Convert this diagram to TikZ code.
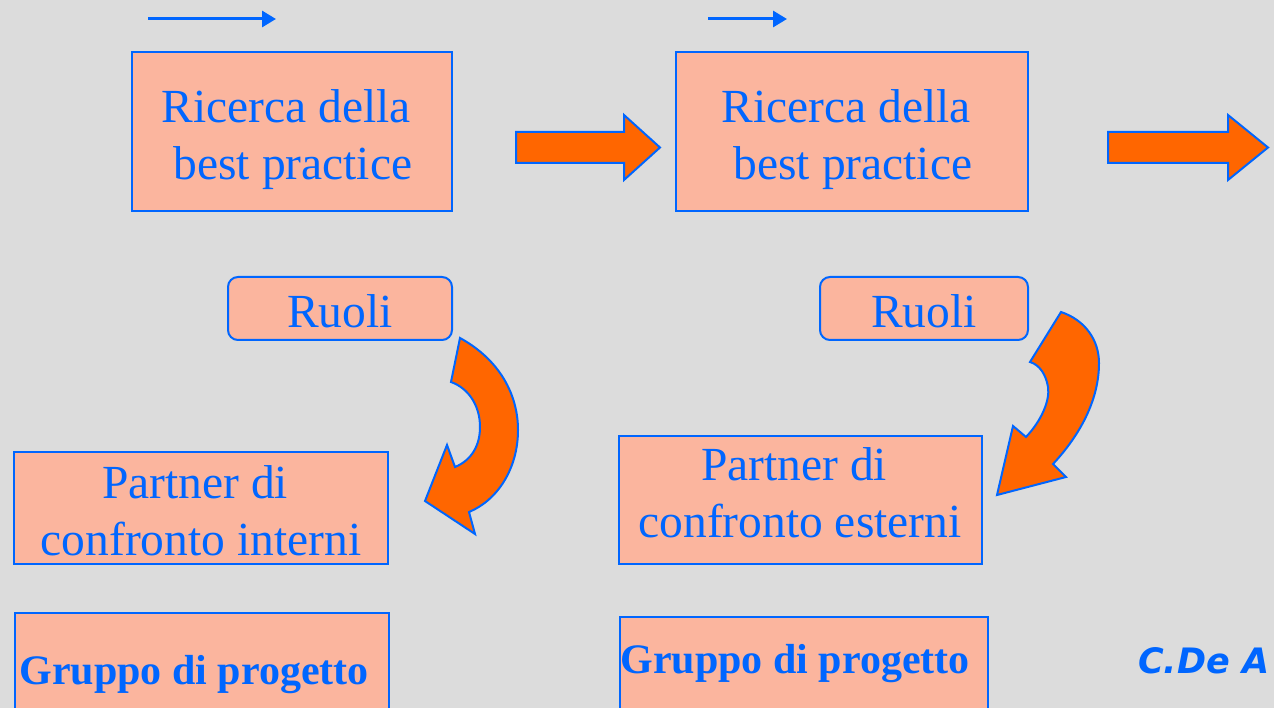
\documentclass[tikz,border=0pt]{standalone}
\usepackage{fontspec}
\setmainfont{Liberation Serif}
\newfontfamily\sigfont{DejaVu Sans}
\usetikzlibrary{arrows.meta}

\definecolor{bgGrey}{HTML}{DCDCDC}
\definecolor{salmon}{HTML}{FBB59E}
\definecolor{lineBlue}{HTML}{0066FF}
\definecolor{arrowOrange}{HTML}{FF6600}

\begin{document}
\begin{tikzpicture}%
        [x=1pt, y=-1pt,
        box/.style={draw=lineBlue, fill=salmon, line width=2pt, inner sep=0pt},
        roundbox/.style={box, rounded corners=10pt},
        boxtext/.style={text=lineBlue, inner sep=0pt, align=center,
                    font=\fontsize{47.5}{57}\selectfont},
        boldtext/.style={text=lineBlue, inner sep=0pt,
                    font=\fontsize{42}{50}\selectfont\bfseries},
        thinarrow/.style={draw=lineBlue, line width=3pt,
                    -{Triangle[length=14pt,width=16pt]}},
        blockarrow/.style={draw=lineBlue, fill=arrowOrange, line width=2pt,
                    line join=miter}]

    %% Background
    \fill[bgGrey] (0,0) rectangle (1274,708);
    \useasboundingbox (0,0) rectangle (1274,708);

    %% Small arrows on top
    \coordinate (s1) at (148,19);
    \coordinate (e1) at (276,19);
    \coordinate (s2) at (708,19);
    \coordinate (e2) at (787,19);
    \draw[thinarrow] (s1) -- (e1);
    \draw[thinarrow] (s2) -- (e2);

    %% Boxes
    \node[box, minimum width=320pt, minimum height=159pt] (ricerca1) at (292,131.5) {};
    \node[box, minimum width=352pt, minimum height=159pt] (ricerca2) at (852,131.5) {};
    \node[roundbox, minimum width=224pt, minimum height=63pt] (ruoli1) at (340,308.5) {};
    \node[roundbox, minimum width=208pt, minimum height=63pt] (ruoli2) at (924,308.5) {};
    \node[box, minimum width=374pt, minimum height=112pt] (partner1) at (201,508) {};
    \node[box, minimum width=363pt, minimum height=128pt] (partner2) at (800.5,500) {};
    \node[box, anchor=north west, minimum width=374pt, minimum height=130pt] (gruppo1) at (14,612) {};
    \node[box, anchor=north west, minimum width=368pt, minimum height=130pt] (gruppo2) at (619,616) {};

    %% Texts
    \node[boxtext] (rtext1) at (286,139.5) {Ricerca della\\ \hspace*{14pt}best practice};
    \node[boxtext] (rtext2) at (846,139.5) {Ricerca della\\ \hspace*{14pt}best practice};
    \node[boxtext] (utext1) at (340,311) {Ruoli};
    \node[boxtext] (utext2) at (924,311) {Ruoli};
    \node[boxtext] (ptext1) at (201,511) {Partner di\hspace*{12pt}\\ confronto interni};
    \node[boxtext] (ptext2) at (800,493) {Partner di\hspace*{12pt}\\ confronto esterni};
    \node[boldtext] (gtext1) at (194,675) {Gruppo di progetto};
    \node[boldtext] (gtext2) at (795,664) {Gruppo di progetto};

    %% Block arrows
    \draw[blockarrow] (516,132) -- (624,132) -- (624,115) -- (660,147.5)
        -- (624,180) -- (624,163) -- (516,163) -- cycle;
    \draw[blockarrow] (1108,132) -- (1228,132) -- (1228,115) -- (1268,147.5)
        -- (1228,180) -- (1228,163) -- (1108,163) -- cycle;

    %% Curved arrows
    \draw[blockarrow] (460,338) .. controls (500,360) and (518,395) .. (518,430)
        .. controls (518,468) and (498,500) .. (469,512) -- (475,534) -- (425,501)
        -- (447,445) -- (455,467) .. controls (472,460) and (480,445) .. (480,427)
        .. controls (480,405) and (468,388) .. (451,382) -- cycle;
    \draw[blockarrow] (1061,312) .. controls (1085,320) and (1099,340) .. (1099,363)
        .. controls (1099,400) and (1080,435) .. (1053,464) -- (1066,477) -- (997,495)
        -- (1013,426) -- (1026,437) .. controls (1042,420) and (1050,400) .. (1048,387)
        .. controls (1046,375) and (1040,365) .. (1030,362) -- cycle;

    %% Signature
    \node[anchor=west, text=lineBlue, inner sep=0pt,
        font=\sigfont\fontsize{35}{42}\selectfont\bfseries\itshape] (sig) at (1138,661) {C.De A};
\end{tikzpicture}
\end{document}
